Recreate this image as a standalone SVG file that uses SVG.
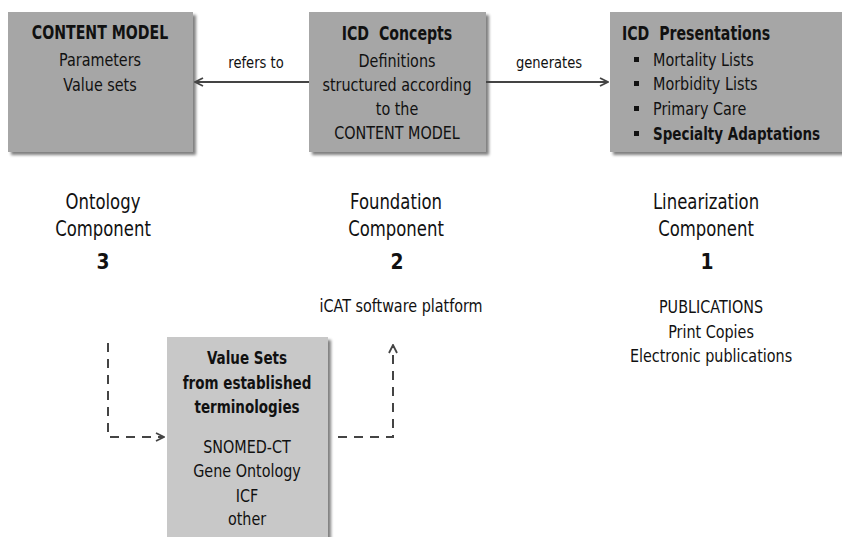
<svg xmlns="http://www.w3.org/2000/svg" width="842" height="537" viewBox="0 0 842 537">
<defs>
<filter id="sh" x="-10%" y="-10%" width="120%" height="120%">
<feGaussianBlur in="SourceAlpha" stdDeviation="1.5"/>
<feOffset dx="3" dy="3" result="b"/>
<feComponentTransfer><feFuncA type="linear" slope="0.5"/></feComponentTransfer>
<feMerge><feMergeNode/><feMergeNode in="SourceGraphic"/></feMerge>
</filter>
<marker id="ah" viewBox="0 0 10 10" refX="9" refY="5" markerWidth="10" markerHeight="10" markerUnits="userSpaceOnUse" orient="auto">
<path d="M1,1 L9,5 L1,9" fill="none" stroke="#444" stroke-width="1.8"/>
</marker>
</defs>
<style>
text{font-family:"DejaVu Sans","Liberation Sans",sans-serif;fill:#111}
.c{text-anchor:middle}
.r{font-size:17px}
.rb{font-size:18px;font-weight:bold}
.t{font-size:19.5px;font-weight:bold}
.k{font-size:20.5px}
.n{font-size:22px;font-weight:bold}
.l{font-size:16px}
.dk{fill:#a6a6a6;filter:url(#sh)}
.lt{fill:#c8c8c8;filter:url(#sh)}
.ln{stroke:#444;stroke-width:2;fill:none}
.ds{stroke:#444;stroke-width:2;fill:none;stroke-dasharray:9,7}
.bu{fill:#111}
</style>
<rect width="842" height="537" fill="#fff"/>
<g id="content-model">
<rect class="dk" x="8" y="12" width="185" height="140"/>
<text class="c t" transform="translate(100,39) scale(0.725,1)">CONTENT MODEL</text>
<text class="c r" transform="translate(100,66) scale(0.845,1)">Parameters</text>
<text class="c r" transform="translate(100,90.5) scale(0.845,1)">Value sets</text>
</g>
<g id="icd-concepts">
<rect class="dk" x="309" y="12" width="177" height="140"/>
<text class="c t" transform="translate(397,40) scale(0.725,1)" xml:space="preserve">ICD  Concepts</text>
<text class="c r" transform="translate(397,66.5) scale(0.845,1)">Definitions</text>
<text class="c r" transform="translate(397,90.5) scale(0.845,1)">structured according</text>
<text class="c r" transform="translate(397,115) scale(0.845,1)">to the</text>
<text class="c r" transform="translate(397,139) scale(0.845,1)">CONTENT MODEL</text>
</g>
<g id="icd-presentations">
<rect class="dk" x="610" y="12" width="240" height="140"/>
<text class="t" transform="translate(622,40) scale(0.725,1)" xml:space="preserve">ICD  Presentations</text>
<rect class="bu" x="634" y="57" width="5" height="5"/>
<rect class="bu" x="634" y="81" width="5" height="5"/>
<rect class="bu" x="634" y="106" width="5" height="5"/>
<rect class="bu" x="634" y="131" width="5" height="5"/>
<text class="r" transform="translate(653,66) scale(0.845,1)">Mortality Lists</text>
<text class="r" transform="translate(653,89.5) scale(0.845,1)">Morbidity Lists</text>
<text class="r" transform="translate(653,115) scale(0.845,1)">Primary Care</text>
<text class="rb" transform="translate(653,140) scale(0.75,1)">Specialty Adaptations</text>
</g>
<g id="ontology-component">
<text class="c k" transform="translate(103,209) scale(0.805,1)">Ontology</text>
<text class="c k" transform="translate(103,235.5) scale(0.805,1)">Component</text>
<text class="c n" transform="translate(103,269) scale(0.85,1)">3</text>
</g>
<g id="foundation-component">
<text class="c k" transform="translate(396,209) scale(0.805,1)">Foundation</text>
<text class="c k" transform="translate(396,235.5) scale(0.805,1)">Component</text>
<text class="c n" transform="translate(397,269) scale(0.85,1)">2</text>
<text class="c r" transform="translate(401,312) scale(0.845,1)">iCAT software platform</text>
</g>
<g id="linearization-component">
<text class="c k" transform="translate(706,209) scale(0.805,1)">Linearization</text>
<text class="c k" transform="translate(706,235.5) scale(0.805,1)">Component</text>
<text class="c n" transform="translate(707,269) scale(0.85,1)">1</text>
<text class="c r" transform="translate(711,313) scale(0.845,1)">PUBLICATIONS</text>
<text class="c r" transform="translate(711,337.5) scale(0.845,1)">Print Copies</text>
<text class="c r" transform="translate(711,361.5) scale(0.845,1)">Electronic publications</text>
</g>
<g id="value-sets">
<rect class="lt" x="167" y="337" width="161" height="210"/>
<text class="c rb" transform="translate(247,364) scale(0.75,1)">Value Sets</text>
<text class="c rb" transform="translate(247,389) scale(0.75,1)">from established</text>
<text class="c rb" transform="translate(247,413) scale(0.75,1)">terminologies</text>
<text class="c r" transform="translate(247,452.5) scale(0.845,1)">SNOMED-CT</text>
<text class="c r" transform="translate(247,477) scale(0.845,1)">Gene Ontology</text>
<text class="c r" transform="translate(247,501.5) scale(0.845,1)">ICF</text>
<text class="c r" transform="translate(247,525) scale(0.845,1)">other</text>
</g>
<g id="connectors">
<line class="ln" x1="309" y1="82" x2="195" y2="82" marker-end="url(#ah)"/>
<text class="c l" transform="translate(256,68) scale(0.82,1)">refers to</text>
<line class="ln" x1="486" y1="82" x2="608" y2="82" marker-end="url(#ah)"/>
<text class="c l" transform="translate(549,68) scale(0.82,1)">generates</text>
<path class="ds" d="M108,343 V437 H164" marker-end="url(#ah)"/>
<path class="ds" d="M338,437 H393 V345" marker-end="url(#ah)"/>
</g>
</svg>
